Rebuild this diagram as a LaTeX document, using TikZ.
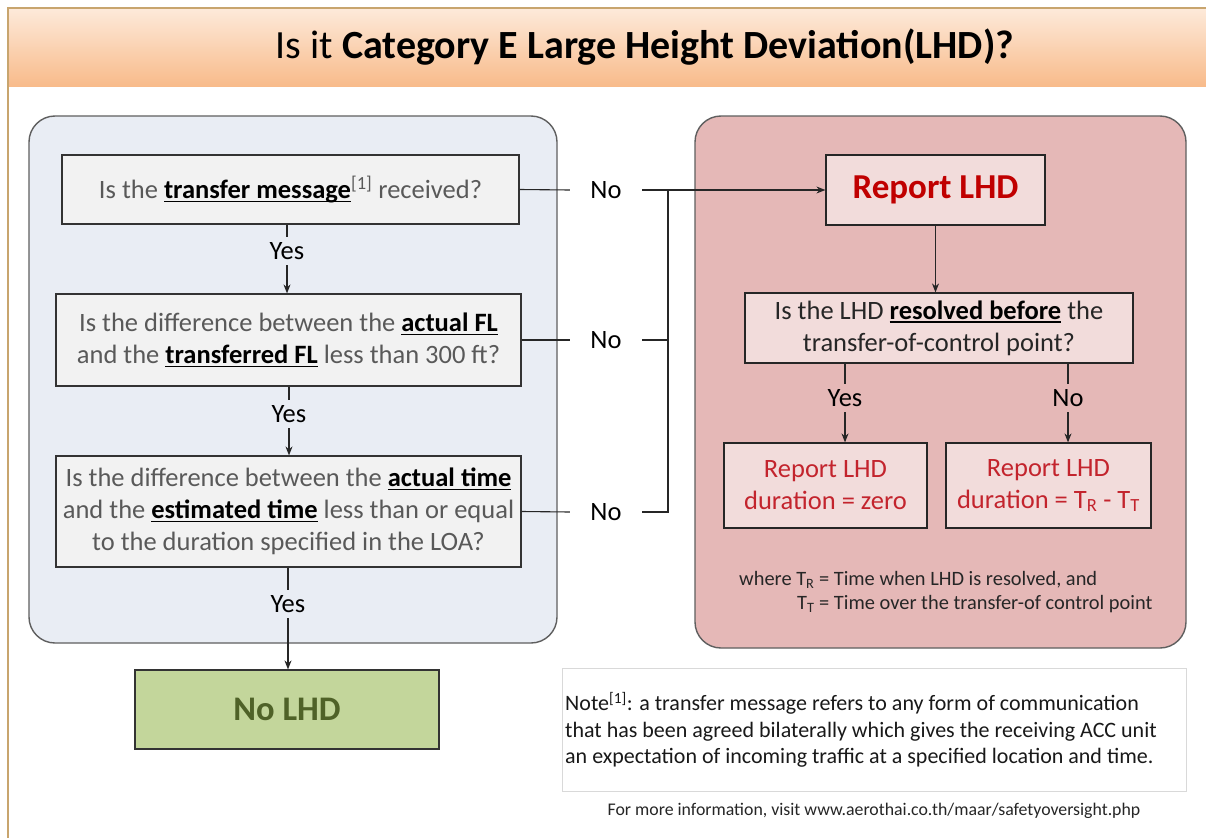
\documentclass[tikz,border=0pt]{standalone}
\usepackage{fontspec}
\setmainfont{Carlito}
\usetikzlibrary{arrows.meta}
\definecolor{hdtop}{HTML}{FDEADA}
\definecolor{hdbot}{HTML}{F8BB8B}
\definecolor{frameC}{HTML}{C8A56E}
\definecolor{blueP}{HTML}{E9EDF4}
\definecolor{pinkP}{HTML}{E5B8B7}
\definecolor{panelB}{HTML}{5F5F5F}
\definecolor{qfill}{HTML}{F2F2F2}
\definecolor{rfill}{HTML}{F2DCDB}
\definecolor{gfill}{HTML}{C3D69B}
\definecolor{gtext}{HTML}{4F6228}
\definecolor{qtext}{HTML}{595959}
\definecolor{darkred}{HTML}{C00000}
\definecolor{lred}{HTML}{C3242D}
\definecolor{noteB}{HTML}{D9D9D9}
\newcommand\kw[1]{{\color{black}\bfseries\sbox0{#1}\rlap{\rule[-3.8bp]{\wd0}{1.7bp}}\usebox0}}
\begin{document}
\begin{tikzpicture}[x=1bp,y=-1bp,
  panel/.style={draw=panelB, line width=1.4bp, rounded corners=26bp},
  qbox/.style={draw=black!80, fill=qfill, line width=1.2bp, align=center, text=qtext,
     font=\fontsize{26.5bp}{32bp}\selectfont, inner sep=0pt},
  rbox/.style={draw=black!85, fill=rfill, line width=1.2bp, align=center, inner sep=0pt},
  lbl/.style={font=\fontsize{26.5bp}{28bp}\selectfont, text=black, inner sep=0pt, minimum height=28bp},
  nolbl/.style={lbl, minimum width=72bp},
  conn/.style={draw=black!85, line width=1.1bp},
  arr/.style={conn, -{Stealth[length=9bp,width=7bp]}}]
\useasboundingbox (0,0) rectangle (1206,838);
\fill[white] (0,0) rectangle (1206,838);
% header
\shade[top color=hdtop, bottom color=hdbot] (8,8) rectangle (1206,86);
\draw[frameC, line width=1.2bp] (8,838) -- (8,8) -- (1206,8);
\node[font=\fontsize{40bp}{44bp}\selectfont, inner sep=0pt] (title) at (645,47) {Is it \textbf{Category E Large Height Deviation(LHD)?}};
% panels
\path[panel, fill=blueP] (29,116) rectangle (557,643);
\path[panel, fill=pinkP] (695,116) rectangle (1186,648);
% left column
\node[qbox, minimum width=457bp, minimum height=69bp] (q1) at (290.5,189.5)
  {Is the \kw{transfer message}\textsuperscript{[1]} received?};
\node[qbox, minimum width=465bp, minimum height=92bp] (q2) at (288.5,340)
  {Is the difference between the \kw{actual FL}\\and the \kw{transferred FL} less than 300 ft?};
\node[qbox, minimum width=465bp, minimum height=111bp] (q3) at (288.5,511.5)
  {Is the difference between the \kw{actual time}\\and the \kw{estimated time} less than or equal\\to the duration specified in the LOA?};
\node[draw=black!80, fill=gfill, line width=1.2bp, minimum width=304bp, minimum height=79bp,
  font=\fontsize{34.5bp}{38bp}\selectfont\bfseries, text=gtext] (nolhd) at (287,709.5) {No LHD};
\node[lbl] (y1) at (287,251) {Yes};
\node[lbl] (y2) at (289,414) {Yes};
\node[lbl] (y3) at (288,604) {Yes};
\draw[conn] (q1.south -| y1) -- (y1.north);
\draw[arr] (y1.south) -- (y1.south |- q2.north);
\draw[conn] (q2.south -| y2) -- (y2.north);
\draw[arr] (y2.south) -- (y2.south |- q3.north);
\draw[conn] (q3.south -| y3) -- (y3.north);
\draw[arr] (y3.south) -- (y3.south |- nolhd.north);
% No branches
\node[nolbl] (n1) at (606,190) {No};
\node[nolbl] (n2) at (606,340) {No};
\node[nolbl] (n3) at (606,512) {No};
\coordinate (bus1) at (668,190);
\coordinate (bus3) at (668,512);
% right column
\node[rbox, minimum width=219bp, minimum height=70bp, text=darkred,
  font=\fontsize{35bp}{38bp}\selectfont\bfseries] (r1) at (935.5,190) {Report LHD};
\node[rbox, minimum width=388bp, minimum height=70bp, text=black!85,
  font=\fontsize{26.5bp}{32bp}\selectfont] (rq) at (939,328)
  {Is the LHD \kw{resolved before} the\\transfer-of-control point?};
\node[lbl] (ry) at (845,398) {Yes};
\node[lbl] (rn) at (1068,398) {No};
\node[rbox, minimum width=203bp, minimum height=85bp, text=lred,
  font=\fontsize{26.5bp}{32bp}\selectfont] (rb1) at (825.5,485.5) {Report LHD\\duration = zero};
\node[rbox, minimum width=205bp, minimum height=85bp, text=lred,
  font=\fontsize{26.5bp}{32bp}\selectfont] (rb2) at (1048.5,485.5) {Report LHD\\duration = T\textsubscript{R} - T\textsubscript{T}};
% connectors
\draw[conn] (q1.east) -- (n1.west);
\draw[conn] (q2.east) -- (n2.west);
\draw[conn] (q3.east) -- (n3.west);
\draw[arr] (n1.east) -- (r1.west);
\draw[conn] (n2.east) -- (n2.east -| bus1);
\draw[conn] (n3.east) -- (bus3) -- (bus1);
\draw[arr] (r1.south) -- (r1.south |- rq.north);
\draw[conn] (rq.south -| ry) -- (ry.north);
\draw[arr] (ry.south) -- (ry.south |- rb1.north);
\draw[conn] (rq.south -| rn) -- (rn.north);
\draw[arr] (rn.south) -- (rn.south |- rb2.north);
% where text
\node[anchor=base west, inner sep=0pt, font=\fontsize{20.4bp}{24bp}\selectfont, text=black!85] (w1) at (739,585)
  {where T\textsubscript{R} = Time when LHD is resolved, and};
\node[anchor=base west, inner sep=0pt, font=\fontsize{20.4bp}{24bp}\selectfont, text=black!85] (w2) at (797,609)
  {T\textsubscript{T} = Time over the transfer-of control point};
% note
\node[draw=noteB, fill=white, line width=1bp, minimum width=624bp, minimum height=123bp] (note) at (874,729.5) {};
\node[anchor=west, align=left, inner sep=0pt, text=black!90,
  font=\fontsize{22bp}{26.5bp}\selectfont] (notetext) at (565,730)
  {Note\textsuperscript{[1]}: a transfer message refers to any form of communication\\that has been agreed bilaterally which gives the receiving ACC unit\\an expectation of incoming traffic at a specified location and time.};
\node[font=\fontsize{17.8bp}{20bp}\selectfont, text=black!85, inner sep=0pt] (foot) at (874,811)
  {For more information, visit www.aerothai.co.th/maar/safetyoversight.php};
\end{tikzpicture}
\end{document}
